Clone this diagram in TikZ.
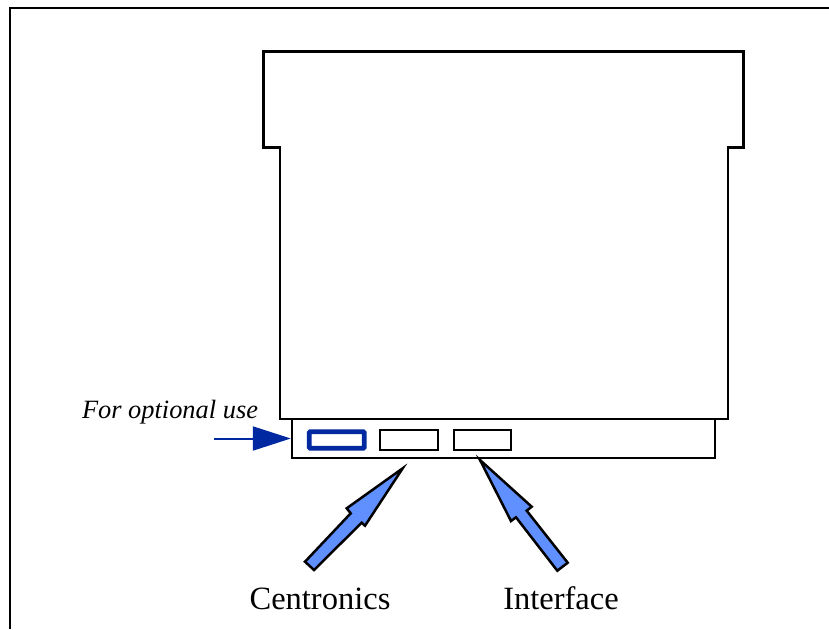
\documentclass[tikz,border=0pt]{standalone}
\usepackage{tikz}
\usepackage{xcolor}
\usepackage{fontspec}
\setmainfont{Liberation Serif}
\usetikzlibrary{arrows.meta}
\definecolor{hblue}{HTML}{0028A0}
\definecolor{harrow}{HTML}{6090FF}
\tikzstyle{outline} =[
    draw=black,
    line width=2.4pt,
    line join=miter
    ]
\tikzstyle{slotbox} = [
    draw=black,
    line width=2.4pt,
    rectangle,
    inner sep=0pt,
    minimum width=57.5pt,
    minimum height=19.5pt
    ]
\tikzstyle{blockarrow} = [
    draw=black,
    fill=harrow,
    line width=2.5pt,
    line join=miter
    ]
\tikzstyle{biglabel} = [
    font=\fontsize{32.5}{36}\selectfont,
    anchor=base,
    inner sep=0pt
    ]

\begin{document}
\begin{tikzpicture}[x=1pt,y=-1pt]
\useasboundingbox (0,0) rectangle (829,629);
\draw[line width=2.7pt] (10,629) -- (10,8) -- (829,8);
\draw[outline] (263.5,51.5) -- (743.5,51.5) -- (743.5,147.5) -- (728,147.5) -- (728,419)
    -- (280,419) -- (280,147.5) -- (263.5,147.5) -- cycle;
\node[draw=black, line width=2.4pt, rectangle, inner sep=0pt, minimum width=423pt, minimum height=39pt] (cardbar) at (503.5,438.5) {};
\node[slotbox, draw=hblue, line width=4.8pt, rounded corners=1pt, minimum width=55pt, minimum height=16.5pt] (slotopt) at (336.7,440) {};
\node[slotbox] (slotcentronics) at (409,440) {};
\node[slotbox] (slotinterface) at (482.5,440) {};
\node[font=\fontsize{26.4}{30}\selectfont\itshape, anchor=base, inner sep=0pt] (labelopt) at (170,418.5) {For optional use};
\coordinate (optstart) at (214,438.5);
\draw[hblue, line width=2pt, -{Triangle[length=38pt,width=24pt]}] (optstart) -- (cardbar.west);
\draw[blockarrow] (402.7,468.3) -- (365,525.7) -- (361.7,522.7) -- (314,570) -- (305,561.7)
    -- (350.7,513.3) -- (346.7,508.3) -- cycle;
\draw[blockarrow] (480,460) -- (531.7,506.7) -- (526.7,510.7) -- (567.7,562.7) -- (557.3,570.7)
    -- (516,517.3) -- (511,521) -- cycle;
\node[biglabel] (labelcentronics) at (320,609) {Centronics};
\node[biglabel] (labelinterface) at (561,609) {Interface};
\end{tikzpicture}
\end{document}
